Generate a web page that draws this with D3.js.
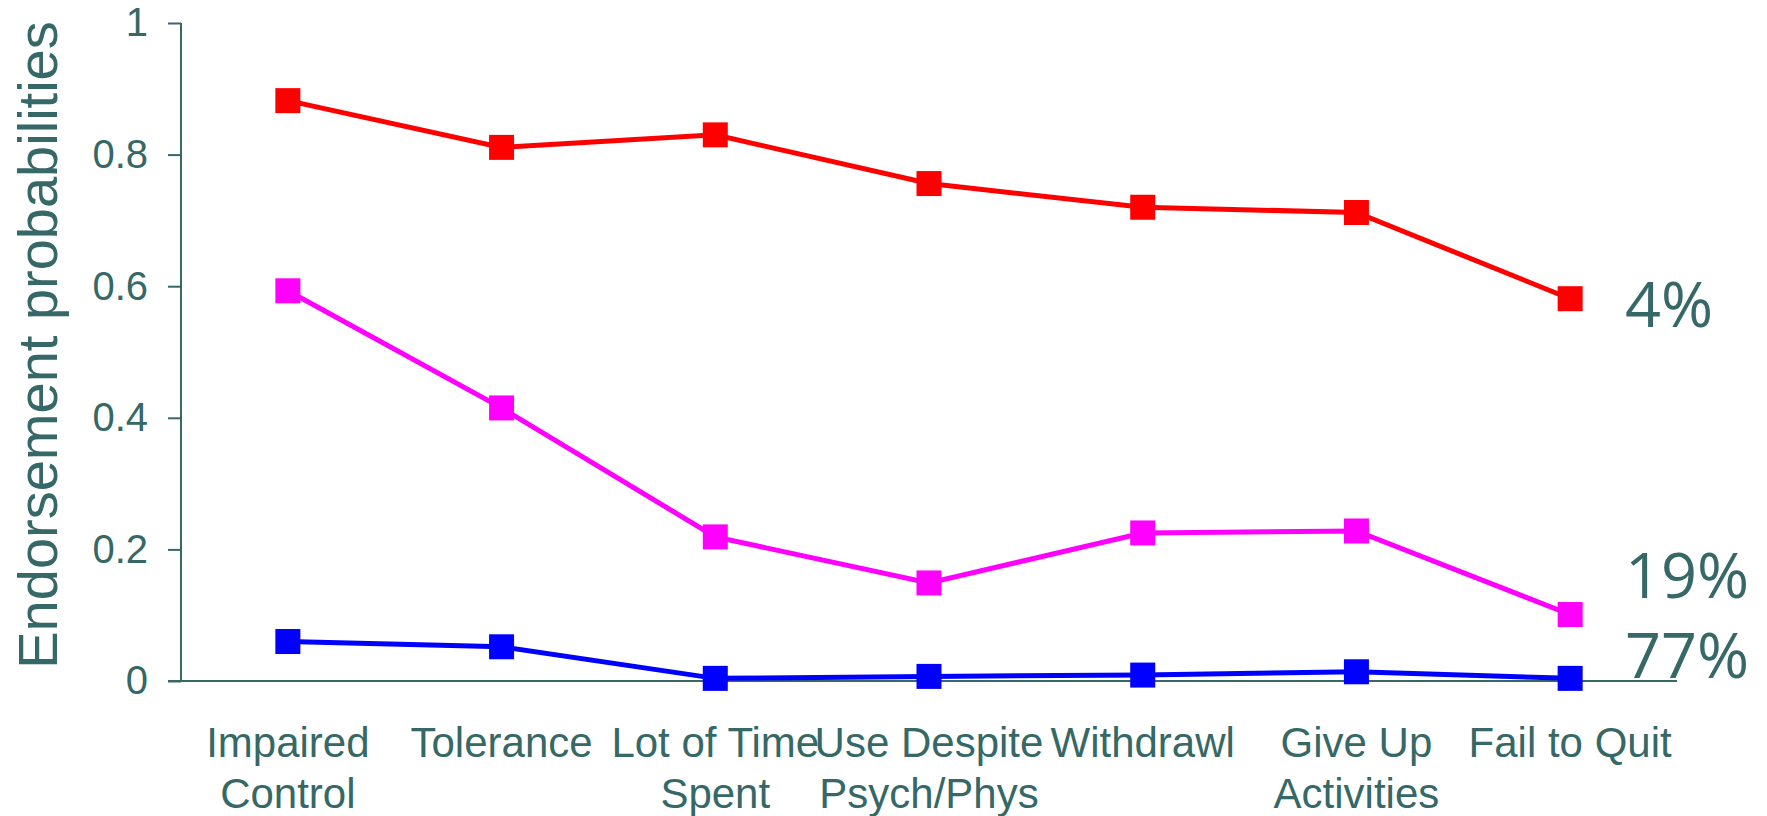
<!DOCTYPE html>
<html>
<head>
<meta charset="utf-8">
<script src="https://cdn.jsdelivr.net/npm/d3@7"></script>
<style>
  html, body { margin: 0; padding: 0; background: #ffffff; }
  svg { display: block; }
</style>
</head>
<body>
<svg id="chart" width="1767" height="816"></svg>
<script>
// ---- data ----
const categories = [
  "Impaired\nControl",
  "Tolerance",
  "Lot of Time\nSpent",
  "Use Despite\nPsych/Phys",
  "Withdrawl",
  "Give Up\nActivities",
  "Fail to Quit"
];
const classHigh = [0.882, 0.811, 0.830, 0.756, 0.720, 0.712, 0.581];
const classMid  = [0.593, 0.415, 0.219, 0.149, 0.225, 0.228, 0.101];
const classLow  = [0.060, 0.052, 0.004, 0.007, 0.009, 0.014, 0.004];
const classShares = ["4%", "19%", "77%"];
const yTicks = [0, 0.2, 0.4, 0.6, 0.8, 1];
const yTitle = "Endorsement probabilities";

const series = [
  { values: classHigh, color: "#ff0000", share: classShares[0] },
  { values: classMid,  color: "#ff00ff", share: classShares[1] },
  { values: classLow,  color: "#0000ff", share: classShares[2] }
];
const shareBaselines = [327, 598, 678];

// ---- layout ----
const ink = "#356866";
const svg = d3.select("#chart");
const x = d3.scaleBand().domain(categories).range([181, 1677]);
const y = d3.scaleLinear().domain([0, 1]).range([681, 23]);

// y axis
const yAxis = d3.axisLeft(y)
  .tickValues(yTicks)
  .tickFormat(d => d === 0 || d === 1 ? String(d) : d.toFixed(1))
  .tickSize(13)
  .tickPadding(20);
const gy = svg.append("g").attr("transform", "translate(181,0)").call(yAxis);
gy.select(".domain").attr("d", `M0,${y(1)}V${y(0)}`).attr("stroke", ink).attr("stroke-width", 2);
gy.selectAll(".tick line").attr("stroke", ink).attr("stroke-width", 2);
gy.selectAll(".tick text")
  .attr("fill", ink)
  .style("font-family", "'Liberation Sans', Arial, sans-serif")
  .style("font-size", "40px");

// x axis line
const gx = svg.append("g").attr("transform", `translate(0,${y(0)})`)
  .call(d3.axisBottom(x).tickSize(0).tickFormat(""));
gx.select(".domain").attr("d", `M168,0H1677`).attr("stroke", ink).attr("stroke-width", 2);

// x labels
categories.forEach(c => {
  const lines = c.split("\n");
  const t = svg.append("text")
    .attr("x", x(c) + x.bandwidth() / 2)
    .attr("y", 757)
    .attr("text-anchor", "middle")
    .attr("fill", ink)
    .style("font-family", "'Liberation Sans', Arial, sans-serif")
    .style("font-size", "42px");
  lines.forEach((l, i) => {
    t.append("tspan")
      .attr("x", x(c) + x.bandwidth() / 2)
      .attr("dy", i === 0 ? 0 : 51)
      .text(l);
  });
});

// y title
svg.append("text")
  .attr("transform", "translate(57,345) rotate(-90)")
  .attr("text-anchor", "middle")
  .attr("fill", ink)
  .style("font-family", "'Liberation Sans', Arial, sans-serif")
  .style("font-size", "56px")
  .text(yTitle);

// lines and markers
const line = d3.line()
  .x((d, i) => x(categories[i]) + x.bandwidth() / 2)
  .y(d => y(d));
const ms = 25;
series.forEach(s => {
  svg.append("path")
    .datum(s.values)
    .attr("d", line)
    .attr("fill", "none")
    .attr("stroke", s.color)
    .attr("stroke-width", 5);
  svg.selectAll(null)
    .data(s.values)
    .enter().append("rect")
    .attr("x", (d, i) => x(categories[i]) + x.bandwidth() / 2 - ms / 2)
    .attr("y", d => y(d) - ms / 2)
    .attr("width", ms)
    .attr("height", ms)
    .attr("fill", s.color);
});

// class share labels
series.forEach((s, i) => {
  svg.append("text")
    .attr("x", 1625)
    .attr("y", shareBaselines[i])
    .attr("fill", ink)
    .style("font-family", "'Open Sans', sans-serif")
    .style("font-size", "63px")
    .text(s.share);
});
</script>
</body>
</html>
